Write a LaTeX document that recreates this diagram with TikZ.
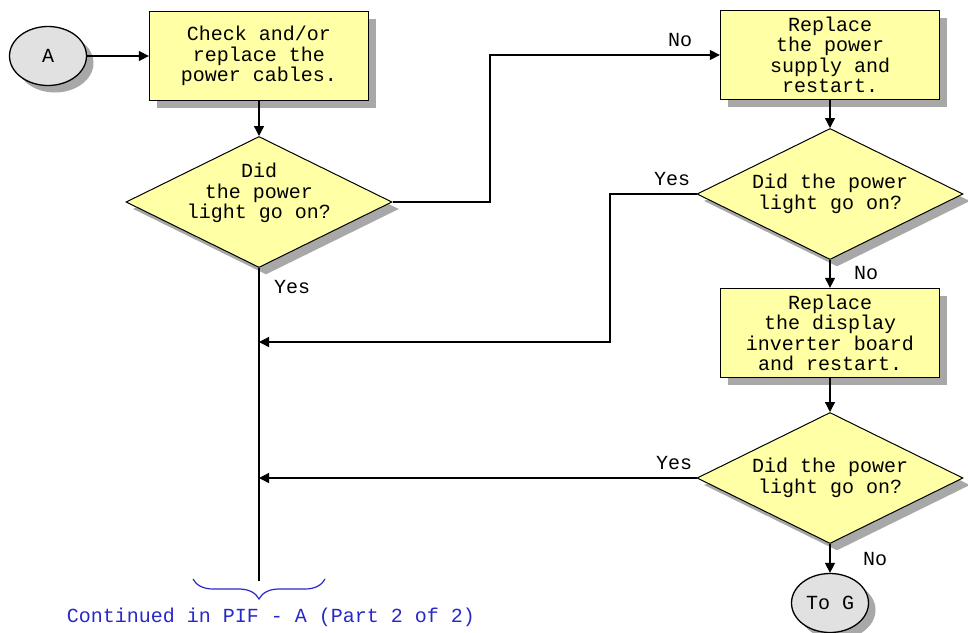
\documentclass[tikz,border=0pt]{standalone}
\usepackage{fontspec}
\setmonofont{Liberation Mono}
\usetikzlibrary{shapes.geometric,shadows,arrows.meta,decorations.pathreplacing}
\definecolor{boxfill}{RGB}{255,255,165}
\definecolor{ovalfill}{RGB}{225,225,225}
\definecolor{shadowgray}{RGB}{168,168,168}
\definecolor{linkblue}{RGB}{40,40,200}
\begin{document}
\begin{tikzpicture}[x=1pt,y=-1pt,
  font=\ttfamily\fontsize{20}{20.5}\selectfont,
  shad/.style={drop shadow={shadow xshift=7pt,shadow yshift=-7pt,fill=shadowgray,opacity=1}},
  procbox/.style={draw,line width=1.3pt,fill=boxfill,rectangle,minimum width=219pt,minimum height=89pt,inner sep=0pt,align=center,shad},
  decision/.style={draw,line width=1pt,fill=boxfill,diamond,minimum width=266pt,minimum height=131pt,inner sep=0pt,shad},
  dtext/.style={align=center,inner sep=0pt},
  terminal/.style={draw,line width=1.3pt,fill=ovalfill,ellipse,minimum width=77pt,minimum height=59pt,inner sep=0pt,shad},
  flow/.style={line width=1.3pt,-{Triangle[length=10pt,width=10pt]}},
  plainline/.style={line width=1.3pt},
  lbl/.style={inner sep=0pt}
]
\useasboundingbox (0,0) rectangle (968,632);

% nodes
\node[terminal] (A) at (48,56) {A};
\node[procbox] (b1) at (259,56) {Check and/or\\replace the\\power cables.};
\node[decision] (d1) at (259,202) {};
\node[dtext] (t1) at (259,193) {Did\\the power\\light go on?};

\node[procbox] (b2) at (830,55) {Replace\\the power\\supply and\\restart.};
\node[decision] (d2) at (830,194) {};
\node[dtext] (t2) at (830,194) {Did the power\\light go on?};

\node[procbox] (b3) at (830,333) {Replace\\the display\\inverter board\\and restart.};
\node[decision] (d3) at (830,478) {};
\node[dtext] (t3) at (830,478) {Did the power\\light go on?};

\node[terminal] (G) at (830,603) {To G};

% helper coordinates
\coordinate (n1) at (490,0);
\coordinate (y2) at (610,0);
\coordinate (j1) at (259,342);
\coordinate (j2) at (259,478);
\coordinate (mainend) at (259,581);
\coordinate (br1) at (193,579);
\coordinate (br2) at (325,579);

% connectors
\draw[flow] (A) -- (b1);
\draw[flow] (b1) -- (d1);
\draw[flow] (d1.east) -- (d1.east -| n1) |- (b2.west);
\draw[flow] (b2) -- (d2);
\draw[flow] (d2) -- (b3);
\draw[flow] (b3) -- (d3);
\draw[flow] (d3) -- (G);
\draw[plainline] (d1.south) -- (mainend);
\draw[flow] (d2.west) -- (d2.west -| y2) |- (j1);
\draw[flow] (d3.west) -- (j2);

% labels
\node[lbl] (l1) at (680,40) {No};
\node[lbl] (l2) at (292,287) {Yes};
\node[lbl] (l3) at (672,179) {Yes};
\node[lbl] (l4) at (866,273) {No};
\node[lbl] (l5) at (674,463) {Yes};
\node[lbl] (l6) at (875,559) {No};

% brace and continuation text
\draw[linkblue,line width=1.2pt,decorate,decoration={brace,mirror,amplitude=20pt}] (br1) -- (br2);
\node[lbl,text=linkblue] (cont) at (271,617) {Continued in PIF - A (Part 2 of 2)};
\end{tikzpicture}
\end{document}
